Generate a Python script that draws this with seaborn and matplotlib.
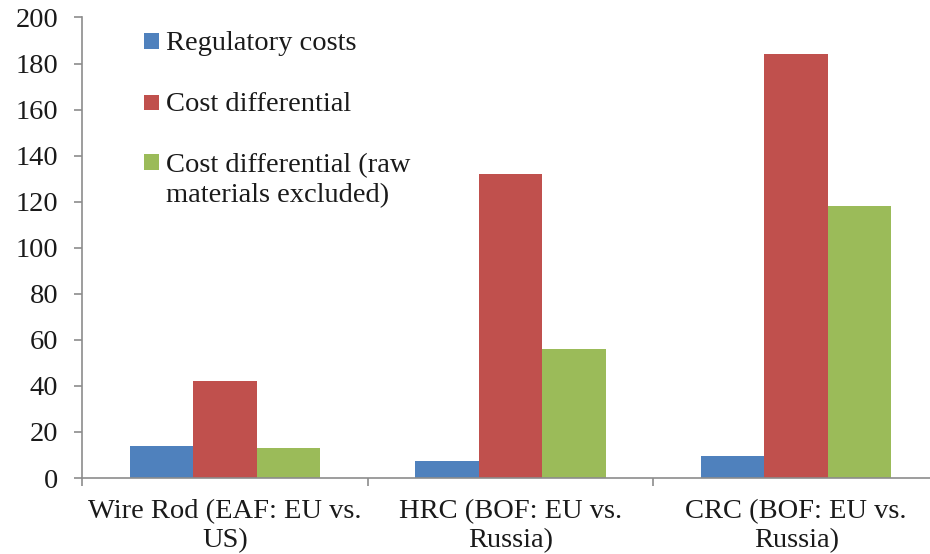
import pandas as pd
import matplotlib.pyplot as plt
import matplotlib.patches as mpatches
import seaborn as sns

categories = ['Wire Rod (EAF: EU vs.\nUS)', 'HRC (BOF: EU vs.\nRussia)', 'CRC (BOF: EU vs.\nRussia)']
series = ['Regulatory costs', 'Cost differential', 'Cost differential (raw\nmaterials excluded)']
regulatory = [14, 7.5, 9.5]
cost_diff = [42, 132, 184]
cost_diff_raw = [13, 56, 118]
y_ticks = [0, 20, 40, 60, 80, 100, 120, 140, 160, 180, 200]

data = pd.DataFrame({
    'category': categories * 3,
    'series': [series[0]] * 3 + [series[1]] * 3 + [series[2]] * 3,
    'value': regulatory + cost_diff + cost_diff_raw,
})

sns.set_style('white')
plt.rcParams['font.family'] = ['Liberation Serif', 'DejaVu Serif']

W, H = 930, 554
fig = plt.figure(figsize=(W / 100, H / 100), dpi=100)
ax = fig.add_axes([82 / W, 1 - 478 / H, (939 - 82) / W, (478 - 17.5) / H])

colors = ['#4F81BD', '#C0504D', '#9BBB59']
sns.barplot(data=data, x='category', y='value', hue='series', palette=colors,
            width=0.667, gap=0, linewidth=0, saturation=1, legend=False, ax=ax)

ax.set_xlim(-0.5, 2.5)
ax.set_ylim(0, 200)
ax.set_yticks(y_ticks)
ax.set_xlabel('')
ax.set_ylabel('')

axis_gray = '#8C8C8C'
for side in ['top', 'right']:
    ax.spines[side].set_visible(False)
for side in ['left', 'bottom']:
    ax.spines[side].set_color(axis_gray)
    ax.spines[side].set_linewidth(1.2)

ax.tick_params(axis='y', labelsize=20.5, colors='#1A1A1A', left=True, length=6,
               width=1.2, color=axis_gray, pad=11)
ax.tick_params(axis='x', which='major', labelsize=20.5, colors='#1A1A1A', bottom=False, pad=12)
ax.set_xticks([-0.5, 0.5, 1.5, 2.5], minor=True)
ax.tick_params(axis='x', which='minor', bottom=True, length=6, width=1.2, color=axis_gray)
for lab in ax.get_xticklabels():
    lab.set_linespacing(1.18)

# legend drawn by hand so the square sits on the first line of a wrapped label
legend_rows = [(33.5, 50), (95.5, 111), (154.5, 172)]
for (sq_top, base), label, c in zip(legend_rows, series, colors):
    fig.patches.append(mpatches.Rectangle((144 / W, 1 - (sq_top + 15) / H), 15 / W, 15 / H,
                                          transform=fig.transFigure, facecolor=c,
                                          edgecolor='none'))
    lines = label.split('\n')
    for k, line in enumerate(lines):
        fig.text(165.5 / W, 1 - (base + 30 * k) / H, line, fontsize=20.5,
                 color='#1A1A1A', va='baseline', ha='left')

fig.savefig('out.png', dpi=100)
